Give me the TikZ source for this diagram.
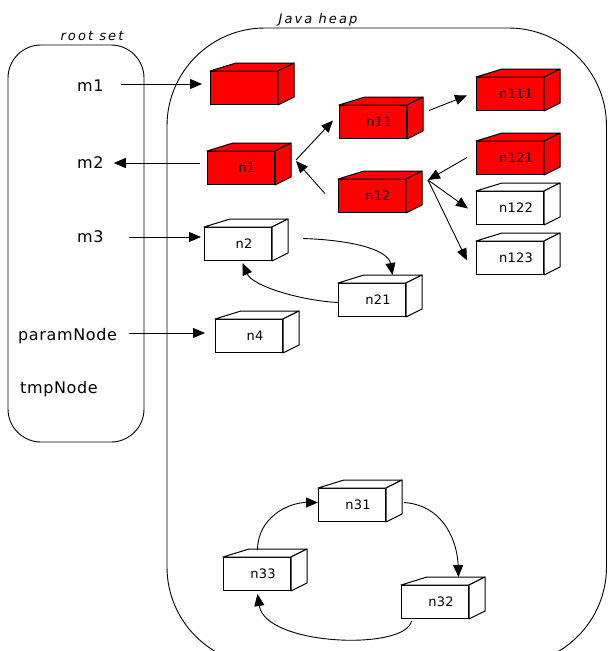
\documentclass[tikz,border=0pt]{standalone}
\usepackage{fontspec}
\setmainfont{DejaVu Sans}
\newfontfamily\rootfont{DejaVu Sans}[LetterSpace=4]
\newfontfamily\boxfont{DejaVu Sans}[LetterSpace=2]
\newfontfamily\titlefont{DejaVu Sans Oblique}[LetterSpace=16]
\usetikzlibrary{arrows.meta,calc}

% side and top faces of a 3-D box whose front face is node #1
\newcommand\boxfaces[2]{%
  \filldraw[fill=#2, facestyle] (#1.north west) -- ++(26,-8)
    -- ($(#1.north east)+(16,-8)$) -- (#1.north east) -- cycle;
  \filldraw[fill=#2, facestyle] (#1.north east) -- ++(16,-8)
    -- ($(#1.south east)+(16,-8)$) -- (#1.south east) -- cycle;}

\begin{document}
\begin{tikzpicture}[x=1pt, y=-1pt,
  facestyle/.style={line width=1pt, line join=round},
  cube/.style={draw, line width=1pt, minimum width=67pt, minimum height=33pt,
    inner sep=0pt, anchor=north west,
    font=\boxfont\fontsize{13}{15}\selectfont,
    execute at begin node=\hspace*{12pt}},
  hot/.style={cube, fill=red},
  cold/.style={cube, fill=white},
  rootlabel/.style={anchor=base west, inner sep=0pt,
    font=\rootfont\fontsize{16}{18}\selectfont},
  title/.style={anchor=base, inner sep=0pt,
    font=\titlefont\fontsize{13}{15}\selectfont},
  frame/.style={line width=0.9pt},
  arr/.style={-{Triangle[length=12pt,width=10pt]}, line width=0.9pt}]

\useasboundingbox (0,0) rectangle (608,651);
\clip (0,0) rectangle (608,651);

% outlines of the two regions
\draw[frame, rounded corners=33pt] (8,45) rectangle (144,442);
\draw[frame, rounded corners=98pt] (167,28) rectangle (606.5,665);
\node[title] (rootset) at (92,40) {root set};
\node[title] (heap) at (318,23) {Java heap};

% root references
\node[rootlabel] (m1) at (77,91) {m1};
\node[rootlabel] (m2) at (77,168) {m2};
\node[rootlabel] (m3) at (77,242) {m3};
\node[rootlabel] (pn) at (18,340) {paramNode};
\node[rootlabel] (tn) at (20,393) {tmpNode};

% heap objects
\node[hot]  (r0)   at (210,71)  {};
\node[hot]  (n1)   at (207,151) {n1};
\node[hot]  (n11)  at (339,105) {n11};
\node[hot]  (n111) at (476,77)  {n111};
\node[hot]  (n121) at (476,141) {n121};
\node[hot]  (n12)  at (338,179) {n12};
\node[cold] (n122) at (476,191) {n122};
\node[cold] (n123) at (476,241) {n123};
\node[cold] (n2)   at (204,227) {n2};
\node[cold] (n21)  at (338,283) {n21};
\node[cold] (n4)   at (215,319) {n4};
\node[cold] (n31)  at (318,488) {n31};
\node[cold] (n33)  at (223,557) {n33};
\node[cold] (n32)  at (401,585) {n32};

\foreach \b in {r0,n1,n11,n111,n121,n12} {\boxfaces{\b}{red}}
\foreach \b in {n122,n123,n2,n21,n4,n31,n33,n32} {\boxfaces{\b}{white}}

% references from the root set
\path (m1.base east) ++(17,-7) coordinate (m1out);
\path (m2.base east) ++(10,-5) coordinate (m2in);
\path (m3.base east) ++(25,-5) coordinate (m3out);
\path (pn.base east) ++(12,-7) coordinate (pnout);
\draw[arr, shorten >=8pt] (m1out) -- (m1out -| r0.west);
\draw[arr, shorten <=7pt] (n1.west |- m2in) -- (m2in);
\draw[arr, shorten >=3pt] (m3out) -- (m3out -| n2.west);
\draw[arr, shorten >=10pt] (pnout) -- (pnout -| n4.west);

% references between objects
\draw[arr] ($(n1.north east)+(21,9)$) -- ($(n11.west)+(-6,-1.5)$);
\draw[arr] ($(n12.west)+(-13,-2.5)$) -- ($(n1.north east)+(21,10)$);
\draw[arr] ($(n11.east)+(22,-11.5)$) -- ($(n111.west)+(-9,1.5)$);
\draw[arr] ($(n121.west)+(-9,-0.5)$) -- ($(n12.north east)+(22,1)$);
\draw[arr] ($(n12.north east)+(22,1)$) -- ($(n122.west)+(-8,0.5)$);
\draw[arr] ($(n12.north east)+(22,1)$) -- ($(n123.west)+(-9,2.5)$);

\draw[arr] ($(n2.east)+(31,-5.5)$) .. controls +(58,2) and +(-4,-23) .. ($(n21.north)+(20.5,-8)$);
\draw[arr] ($(n21.west)+(0,2.5)$) .. controls +(-38,-2) and +(10,23) .. ($(n2.south)+(4.5,2)$);

% the unreachable cycle
\draw[arr] ($(n33.north)+(0.5,-7)$) .. controls +(0,-32) and +(-30,0) .. ($(n31.west)+(0,-2.5)$);
\draw[arr] ($(n31.east)+(18,-2.5)$) .. controls +(42,3) and +(-1,-32) .. ($(n32.north)+(23.5,-8)$);
\draw[arr] ($(n32.south)+(-23.5,2)$) .. controls +(-6,30) and +(8,52) .. ($(n33.south)+(0.5,3)$);
\end{tikzpicture}
\end{document}
